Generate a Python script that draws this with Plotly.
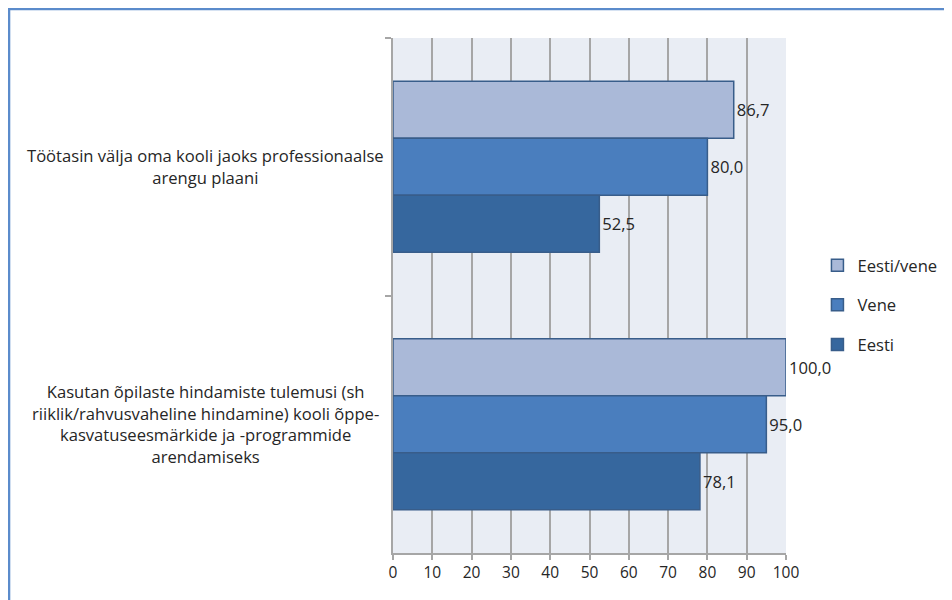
import plotly.graph_objects as go

categories = [
    "Töötasin välja oma kooli jaoks professionaalse<br>arengu plaani",
    "Kasutan õpilaste hindamiste tulemusi (sh<br>riiklik/rahvusvaheline hindamine) kooli õppe-<br>kasvatuseesmärkide ja -programmide<br>arendamiseks",
]
series_names = ["Eesti/vene", "Vene", "Eesti"]
eesti_vene = [86.7, 100.0]
vene = [80.0, 95.0]
eesti = [52.5, 78.1]
x_ticks = [0, 10, 20, 30, 40, 50, 60, 70, 80, 90, 100]

series_values = [eesti_vene, vene, eesti]
fills = ["#AAB9D8", "#4A7EBE", "#36679E"]
font = "'Open Sans', 'Liberation Sans', Arial, sans-serif"
fs = 16.6

fig = go.Figure()
for name, vals, col in zip(series_names, series_values, fills):
    fig.add_trace(go.Bar(
        y=categories, x=vals, name=name, orientation="h",
        marker=dict(color=col, line=dict(color="#385D8A", width=1.5)),
        text=vals, texttemplate="%{x:.1f}", textposition="outside",
        textfont=dict(size=fs, color="#262626", family=font),
        cliponaxis=False, legendgroup=name,
    ))

for c in categories:
    fig.add_annotation(
        x=-0.478, xref="paper", y=c, yref="y", text=c, showarrow=False,
        xanchor="center", align="center",
        font=dict(size=fs, color="#262626", family=font),
    )

fig.add_shape(type="rect", xref="paper", yref="paper",
              x0=-0.977, x1=2, y0=-1, y1=1.0563,
              line=dict(color="#5B8BCB", width=2.5), fillcolor="rgba(0,0,0,0)")

fig.update_layout(
    width=944, height=592,
    margin=dict(l=385, r=166, t=30, b=47, autoexpand=False),
    paper_bgcolor="white", plot_bgcolor="#E9EDF4",
    barmode="group", bargap=0.335, bargroupgap=0,
    separators=", ",
    font=dict(family=font, size=fs, color="#262626"),
    showlegend=True,
    legend=dict(x=1.08, y=0.4816, xanchor="left", yanchor="middle",
                tracegroupgap=15, font=dict(size=fs, family=font, color="#262626")),
    xaxis=dict(range=[0, 100], tickvals=x_ticks, showgrid=True, gridcolor="#A6A6A6",
               gridwidth=1.5, showline=True, linecolor="#A6A6A6", linewidth=1.5,
               ticks="outside", ticklen=5, tickcolor="#A6A6A6", tickwidth=1.5,
               zeroline=False, tickfont=dict(size=15.5)),
    yaxis=dict(autorange="reversed", showticklabels=False, showline=True,
               linecolor="#A6A6A6", linewidth=1.5, ticks="outside", ticklen=6,
               tickcolor="#A6A6A6", tickwidth=1.5, tickson="boundaries",
               showgrid=False),
)

fig.write_html("out.html")
